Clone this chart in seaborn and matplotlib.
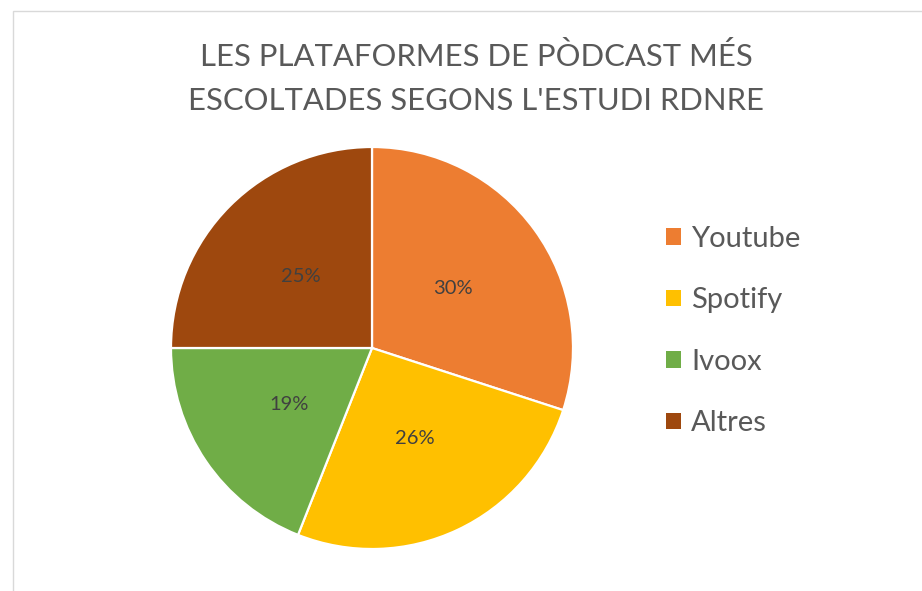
import matplotlib
matplotlib.use("Agg")
import matplotlib.pyplot as plt
import seaborn as sns
from matplotlib.patches import Rectangle

# data
platforms = ["Youtube", "Spotify", "Ivoox", "Altres"]
shares = [30, 26, 19, 25]
colors = ["#ED7D31", "#FFC000", "#70AD47", "#9E480E"]
title_lines = ["LES PLATAFORMES DE PÒDCAST MÉS", "ESCOLTADES SEGONS L'ESTUDI RDNRE"]

sns.set_theme(style="white")
plt.rcParams["font.family"] = ["Lato", "DejaVu Sans"]

W, H = 922, 591
fig = plt.figure(figsize=(W / 100, H / 100), dpi=100)
fig.patch.set_facecolor("white")

# chart border (only left/top visible in reference)
fig.patches.append(Rectangle((13 / W, -0.1), 1.2, 1 - 11 / H + 0.1,
                             transform=fig.transFigure, fill=False,
                             edgecolor="#d9d9d9", linewidth=1))

cx, cy, r = 372, 348, 201
ax = fig.add_axes([(cx - r) / W, (H - cy - r) / H, 2 * r / W, 2 * r / H])
wedges, texts = ax.pie(shares, colors=colors, startangle=90, counterclock=False,
                       labels=[f"{v}%" for v in shares], labeldistance=0.5,
                       wedgeprops=dict(edgecolor="white", linewidth=1.6))
for t in texts:
    t.set_color("#404040")
    t.set_fontsize(14.5)
    t.set_ha("center")
ax.set_xlim(-1, 1)
ax.set_ylim(-1, 1)
ax.axis("off")

fig.text(476 / W, 1 - 56 / H, title_lines[0], ha="center", va="center",
         fontsize=22.3, color="#595959")
fig.text(476 / W, 1 - 101 / H, title_lines[1], ha="center", va="center",
         fontsize=22.3, color="#595959")

leg = fig.legend(wedges, platforms, loc="center left",
                 bbox_to_anchor=(640 / W, 1 - 331 / H), frameon=False,
                 fontsize=21, labelcolor="#595959",
                 handlelength=0.5, handleheight=0.5, handletextpad=0.35,
                 labelspacing=1.22)
for h in leg.legend_handles:
    h.set_edgecolor("none")

fig.savefig("out.png", dpi=100)
